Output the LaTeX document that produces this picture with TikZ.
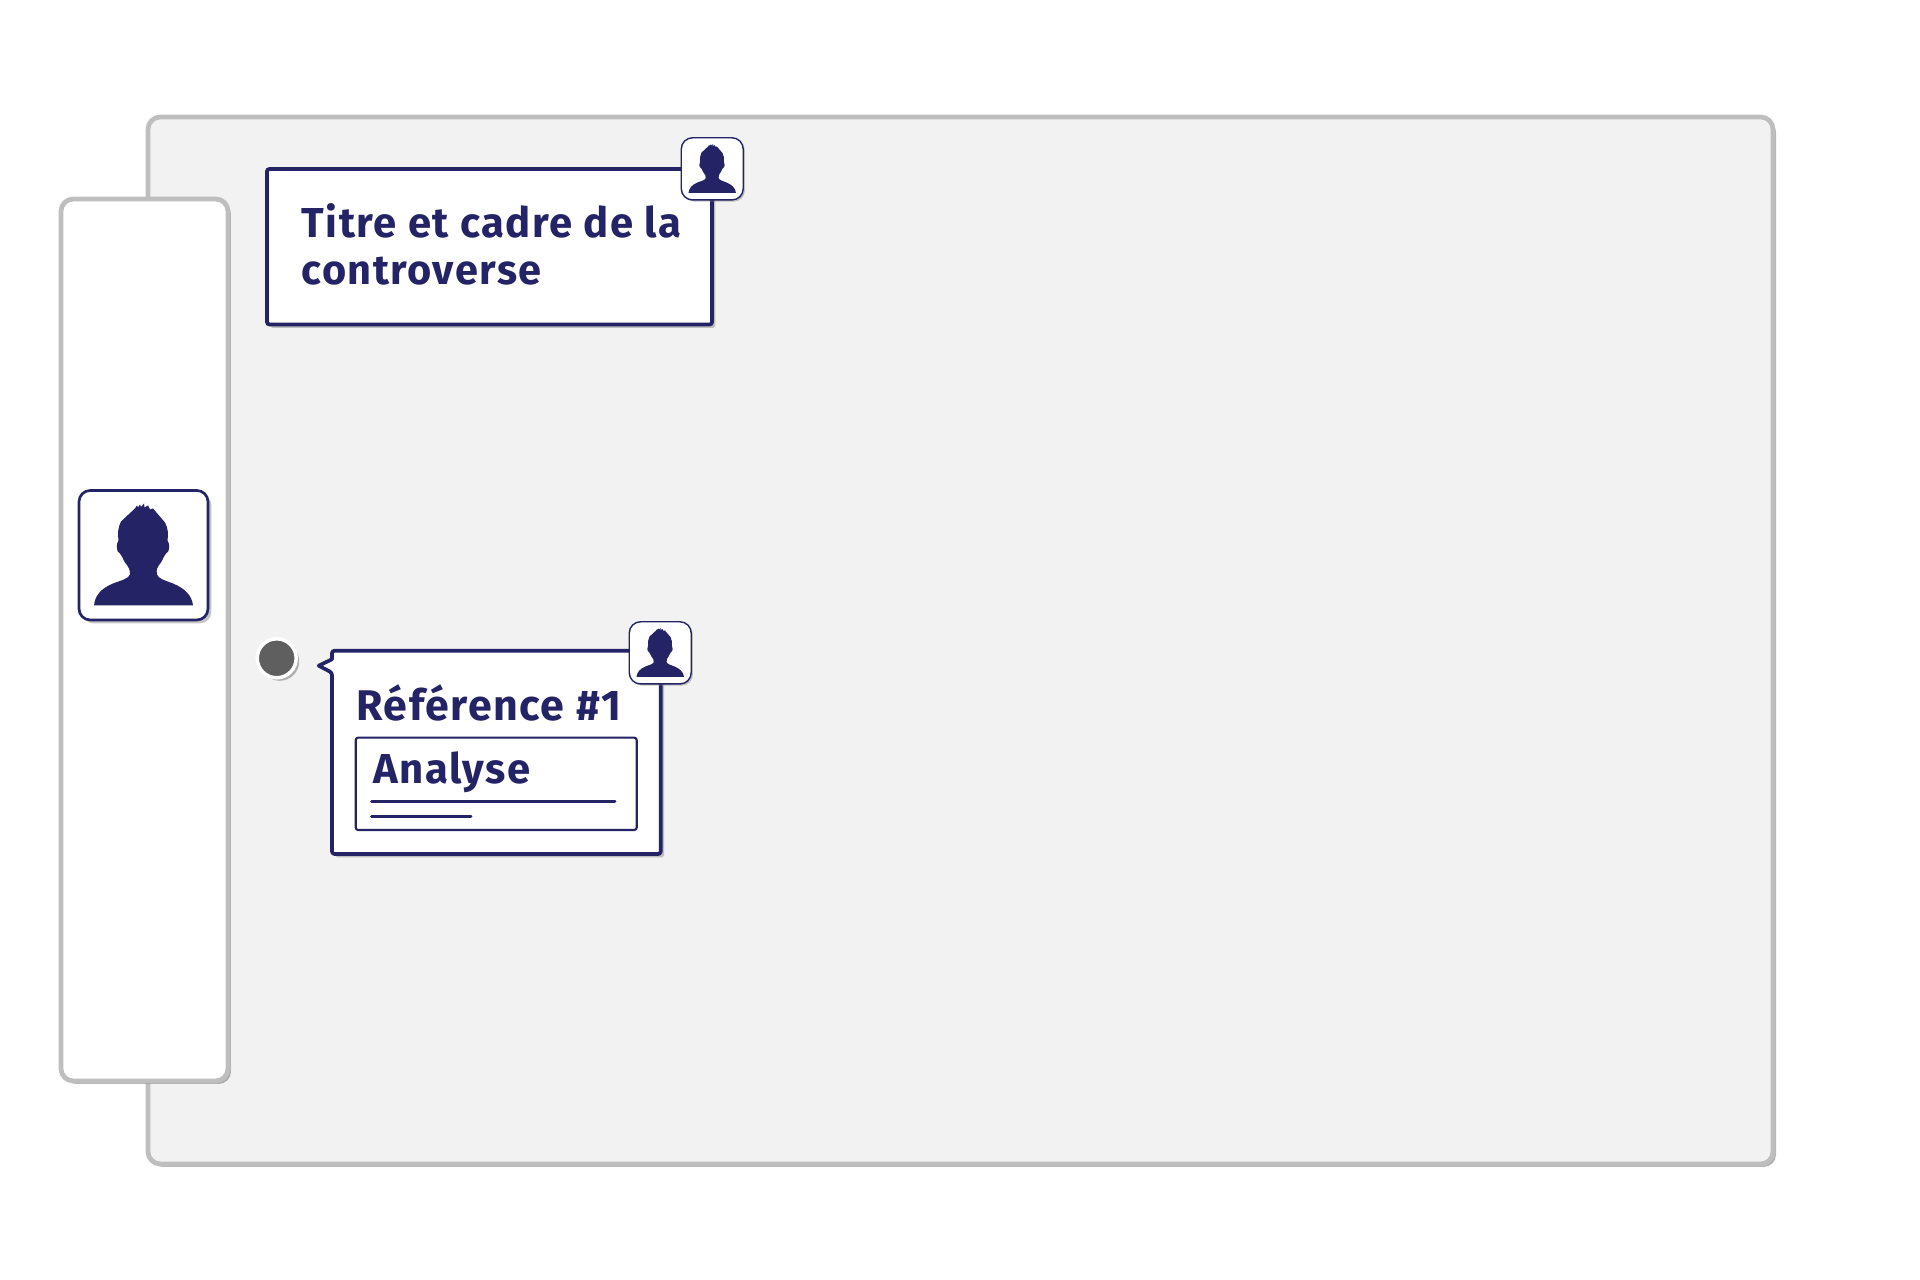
\documentclass[tikz,border=0pt]{standalone}
\usepackage{fontspec}
\setmainfont[LetterSpace=3.5]{Fira Sans}
\usetikzlibrary{shadows}
\definecolor{navyline}{RGB}{35,35,101}
\definecolor{panelgray}{RGB}{190,190,190}
\definecolor{panelfill}{RGB}{242,242,242}
\definecolor{dotgray}{RGB}{95,95,95}
\tikzset{
  iconline/.initial=.75pt,
  iconshadow/.initial=.95pt,
  panel/.style={draw=panelgray,line width=1.35pt,rounded corners=3.5pt,
    drop shadow={shadow xshift=.85pt,shadow yshift=-.85pt,opacity=.6}},
  navybox/.style={draw=navyline,fill=white,line width=1.05pt,rounded corners=.7pt,
    drop shadow={shadow xshift=.95pt,shadow yshift=-.95pt,opacity=.45}},
  innerbox/.style={draw=navyline,fill=white,line width=.6pt,rounded corners=.7pt},
  iconbox/.style={draw=navyline,fill=white,rounded corners=3.2pt,line width=\pgfkeysvalueof{/tikz/iconline},
    drop shadow={shadow xshift=\pgfkeysvalueof{/tikz/iconshadow},shadow yshift=-\pgfkeysvalueof{/tikz/iconshadow},opacity=.45}},
  label/.style={text=navyline,font=\bfseries\fontsize{11.9}{13.4}\selectfont,anchor=base west,inner sep=0pt},
  person/.pic={
    \draw [iconbox] (-64,-65) rectangle (65,64.5);
    \fill [navyline] (-49,50) .. controls (-48,40) and (-42,33) .. (-30,28)
      .. controls (-22,25) and (-14,23) .. (-13,19)
      .. controls (-13,14) and (-14,12) .. (-18,7)
      .. controls (-21,2) and (-21,0) .. (-23,-2)
      .. controls (-27,-3) and (-27,-12) .. (-24.5,-15)
      .. controls (-25.5,-22) and (-25,-28) .. (-22,-34)
      -- (-8,-47) -- (-6,-50) -- (-5,-48) -- (-3,-51) -- (-2,-48.5) -- (1,-52)
      -- (1.5,-48) -- (5,-50) -- (7,-46) -- (10,-47) -- (22,-33)
      .. controls (25,-27) and (25.5,-22) .. (24.5,-15)
      .. controls (27,-12) and (27,-3) .. (23,-2)
      .. controls (21,0) and (21,2) .. (18,7)
      .. controls (14,12) and (13,14) .. (14,19)
      .. controls (15,23) and (22,25) .. (30,28)
      .. controls (42,33) and (49,40) .. (50,50) -- cycle;
  }
}
\begin{document}
\begin{tikzpicture}[x=0.01cm,y=-0.01cm]
\useasboundingbox (0,0) rectangle (1920,1280);
% panels
\draw [panel,fill=panelfill] (148,117) rectangle (1773,1164);
\draw [panel,fill=white] (61,199) rectangle (228,1081);
\pic [iconline=.75pt] at (143,555.5) {person};
% title
\draw [navybox] (267,169) rectangle (712,324.5);
\node [label] (titleline) at (301,237.5) {Titre et cadre de la};
\node [label,font=\bfseries\fontsize{11.8}{13.4}\selectfont] (titlenext) at (301,284.5) {controverse};
\pic [scale=.48,iconline=.4pt,iconshadow=.5pt] at (712,169) {person};
% reference
\node [circle,fill=dotgray,draw=white,line width=1pt,minimum size=39*0.01cm,inner sep=0pt,
  drop shadow={shadow xshift=.85pt,shadow yshift=-.85pt,opacity=.6}] (refdot) at (276.7,658.3) {};
\draw [navybox,sharp corners,line join=round] (332,672.7) -- (318.7,665.7) -- (332,659.3) [rounded corners=.7pt] -- (332,650.7) -- (660.7,650.7) -- (660.7,854) -- (332,854) -- cycle;
\node [label,font=\bfseries\fontsize{12.2}{13.4}\selectfont] (reftext) at (356,721) {Référence \#1};
\draw [innerbox] (355.7,737.7) rectangle (636.7,830);
\node [label] (analysetext) at (373,784) {Analyse};
\draw [navyline,line width=.85pt,line cap=round] (371.7,802) -- (615,802);
\draw [navyline,line width=.85pt,line cap=round] (371.7,816.3) -- (471,816.3);
\pic [scale=.48,iconline=.4pt,iconshadow=.5pt] at (660,653) {person};
\end{tikzpicture}
\end{document}
